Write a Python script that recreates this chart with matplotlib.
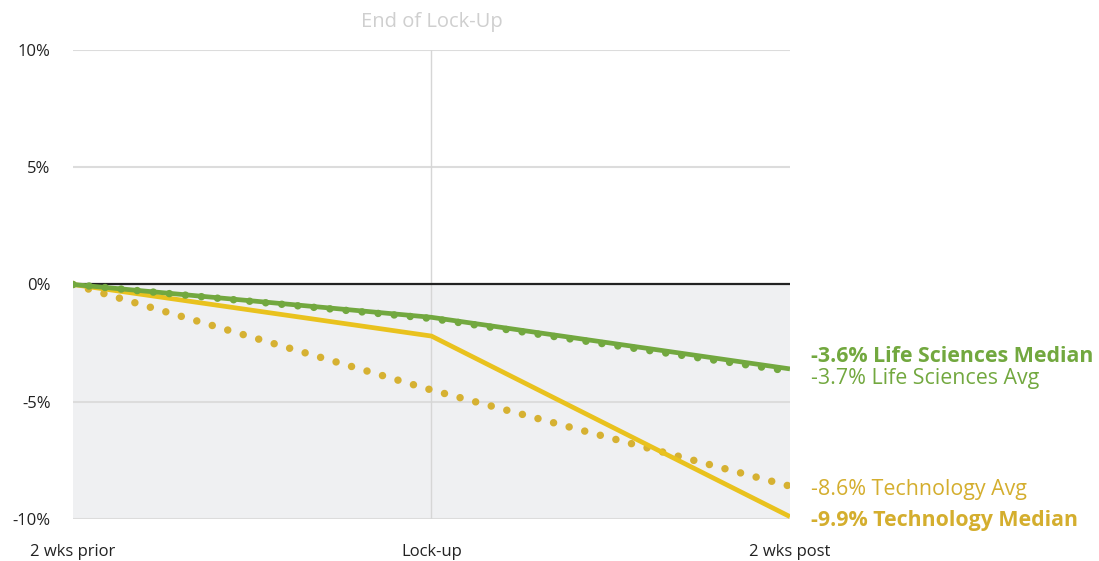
import matplotlib.pyplot as plt

plt.rcParams['font.family'] = ['Open Sans', 'DejaVu Sans']

# Return around the end of the lock-up period (%)
periods = ['2 wks prior', 'Lock-up', '2 wks post']
life_median = [0.0, -1.4, -3.6]
life_avg = [0.0, -1.45, -3.7]
tech_avg = [0.0, -4.5, -8.6]
tech_median = [0.0, -2.2, -9.9]

y_ticks = [10, 5, 0, -5, -10]
y_labels = ['10%', '5%', '0%', '-5%', '-10%']

GREEN = '#72a83f'
YELLOW = '#e9c21e'
YELLOW_DOT = '#d6b132'
YELLOW_TXT = '#d4ae2e'

fig = plt.figure(figsize=(10.99, 5.61), dpi=100)
ax = fig.add_axes([0.0664, 0.0749, 0.6524, 0.836])

x = list(range(len(periods)))
ax.set_xlim(0, len(periods) - 1)
ax.set_ylim(-10, 10)

# negative territory shaded
ax.axhspan(-10, 0, color='#eff0f2', zorder=0, lw=0)
for t in [10, 5, -5, -10]:
    ax.axhline(t, color='#dcdcdc', lw=1.5, zorder=1)
ax.axvline(1, color='#d6d6d6', lw=1, zorder=1)
ax.axhline(0, color='#222222', lw=1.6, zorder=2)

dot = (0, (0.001, 2.15))
ax.plot(x, tech_avg, color=YELLOW_DOT, lw=5.4, ls=dot,
        dash_capstyle='round', zorder=3)
ax.plot(x, tech_median, color=YELLOW, lw=3.4, zorder=4,
        solid_capstyle='butt')
ax.plot(x, life_avg, color=GREEN, lw=5.4, ls=dot,
        dash_capstyle='round', zorder=5)
ax.plot(x, life_median, color=GREEN, lw=3.4, zorder=6,
        solid_capstyle='butt')

ax.set_xticks(x)
ax.set_xticklabels(periods)
ax.set_yticks(y_ticks)
ax.set_yticklabels(y_labels)
ax.tick_params(length=0, labelsize=12, colors='#222222')
ax.tick_params(axis='x', pad=18)
ax.tick_params(axis='y', pad=16)
for s in ax.spines.values():
    s.set_visible(False)

ax.text(1, 10.75, 'End of Lock-Up', ha='center', va='bottom',
        fontsize=14.5, color='#cfcfcf')

# end-of-line labels
lx = 2.06
fs = 15.4
ax.text(lx, -3.05, f'{life_median[-1]}% Life Sciences Median', color=GREEN,
        fontsize=fs, fontweight='bold', va='center', clip_on=False)
ax.text(lx, -4.0, f'{life_avg[-1]}% Life Sciences Avg', color=GREEN,
        fontsize=fs, va='center', clip_on=False)
ax.text(lx, -8.75, f'{tech_avg[-1]}% Technology Avg', color=YELLOW_TXT,
        fontsize=fs, va='center', clip_on=False)
ax.text(lx, -10.05, f'{tech_median[-1]}% Technology Median', color=YELLOW_TXT,
        fontsize=fs, fontweight='bold', va='center', clip_on=False)

fig.savefig('out.png', dpi=100)
